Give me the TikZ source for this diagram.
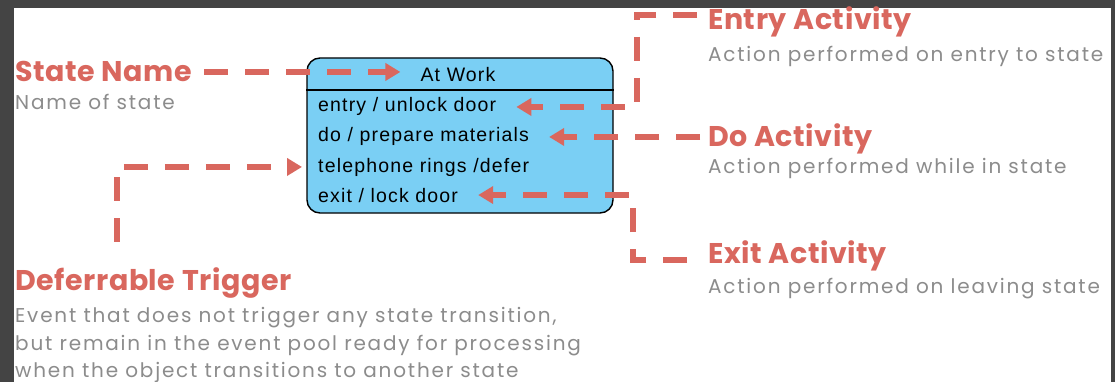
\documentclass[tikz,border=0pt]{standalone}
\usepackage{fontspec}
\setmainfont{Poppins}
\newfontfamily\titlefont{Poppins}[LetterSpace=2]
\newfontfamily\notefont{Poppins}[LetterSpace=9]
\newfontfamily\boxfont{Liberation Sans}[LetterSpace=6]
\usetikzlibrary{arrows.meta,positioning}
\definecolor{framegray}{RGB}{68,68,68}
\definecolor{notered}{RGB}{217,103,94}
\definecolor{notegray}{RGB}{140,140,140}
\definecolor{statefill}{RGB}{122,207,244}
\tikzset{
  title/.style={anchor=base west, inner sep=0pt, text=notered,
    font=\titlefont\fontsize{28.5}{30}\selectfont\bfseries},
  descr/.style={anchor=base west, inner sep=0pt, text=notegray,
    font=\notefont\fontsize{20}{26}\selectfont},
  item/.style={anchor=base west, inner sep=0pt,
    font=\boxfont\fontsize{19.5}{22}\selectfont},
  conn/.style={draw=notered, line width=5.5pt, dash pattern=on 24pt off 17pt,
    -{Triangle[length=15pt,width=17pt]}, shorten >=20pt},
}
\begin{document}
\begin{tikzpicture}[x=1pt,y=-1pt]
  \useasboundingbox (0,0) rectangle (1115,382);
  \fill[framegray] (0,0) rectangle (1115,382);
  \fill[white] (14,8) rectangle (1111,382);
  % the state
  \node (state) at (460,135.5) [draw, line width=1.4pt, fill=statefill, rounded corners=13pt,
    minimum width=306pt, minimum height=155pt] {};
  \draw[line width=1.2pt] (state.west |- 0,90) -- (state.east |- 0,90);
  \node (atwork) at (458,82) [anchor=base, inner sep=0pt,
    font=\boxfont\fontsize{19.5}{22}\selectfont] {At Work};
  \node (ent)  at (318,112) [item] {entry / unlock door};
  \node (dodo) at (318,142) [item] {do / prepare materials};
  \node (tel)  at (318,172) [item] {telephone rings /defer};
  \node (ext)  at (318,202) [item] {exit / lock door};
  % the notes
  \node (sname)   at (15,82)   [title] {State Name};
  \node (snamed)  at (15,110)  [descr] {Name of state};
  \node (etitle)  at (708,30)  [title] {Entry Activity};
  \node (etitled) at (708,62)  [descr] {Action performed on entry to state};
  \node (dtitle)  at (708,147) [title] {Do Activity};
  \node (dtitled) at (708,173) [descr] {Action performed while in state};
  \node (xtitle)  at (708,263) [title] {Exit Activity};
  \node (xtitled) at (708,293) [descr] {Action performed on leaving state};
  \node (ftitle)  at (15,290)  [title] {Deferrable Trigger};
  \node (fline1)  at (15,322)  [descr] {Event that does not trigger any state transition,};
  \node (fline2)  at (15,350)  [descr] {but remain in the event pool ready for processing};
  \node (fline3)  at (15,377)  [descr] {when the object transitions to another state};
  % connectors
  \coordinate (ebend) at (637,15);
  \coordinate (xbend) at (633,260);
  \coordinate (fbend) at (117,170);
  \draw[conn, shorten <=12pt] (sname.east) -- (sname.east -| atwork.west);
  \draw[conn, shorten <=11pt] (etitle.west |- ebend) -- (ebend) |- (ent.east);
  \draw[conn, shorten <=8pt] (dtitle.west |- dodo.east) -- (dodo.east);
  \draw[conn, shorten <=21pt] (xtitle.west |- xbend) -- (xbend) |- (ext.east);
  \draw[conn, shorten <=25pt, shorten >=16pt] (ftitle.north -| fbend) -- (fbend) |- (tel.west);
\end{tikzpicture}
\end{document}
